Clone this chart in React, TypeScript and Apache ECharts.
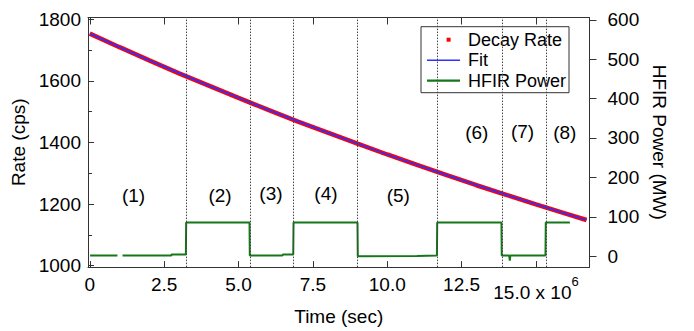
import React, { useEffect, useRef } from 'react';
import * as echarts from 'echarts';

// Axis ticks
const timeTicks = [0, 2.5, 5.0, 7.5, 10.0, 12.5, 15.0];
const rateTicks = [1000, 1200, 1400, 1600, 1800];
const rateMinorTicks = [1100, 1300, 1500, 1700];
const powerTicks = [0, 100, 200, 300, 400, 500, 600];

// Decay rate (cps) vs time (x 10^6 s)
const decayTime = [0, 1, 2, 3, 4, 5, 6, 7, 8, 9, 10, 11, 12, 13, 14, 15, 16, 16.7];
const decayRate = [1754, 1710, 1667, 1625, 1585, 1545, 1506, 1468, 1432, 1396, 1361, 1327, 1294, 1261, 1230, 1199, 1169, 1148];

// Fit
const fitTime = [0, 2, 4, 6, 8, 10, 12, 14, 16, 16.7];
const fitRate = [1754, 1667, 1585, 1506, 1432, 1361, 1294, 1230, 1169, 1148];

// HFIR power (MW) vs time (x 10^6 s)
const powerTime = [0.01, 0.93, 0.94, 1.10, 2.74, 2.75, 3.23, 3.24, 5.37, 5.38, 6.48, 6.49, 6.84, 6.85, 9.0, 9.01, 11.0, 11.67, 11.68, 13.84, 13.85, 14.1, 14.12, 14.14, 15.32, 15.33, 16.14];
const powerMW = [1.5, 1.5, null, 1.5, 1.5, 4, 4, 85.5, 85.5, 1.5, 1.5, 4.5, 4.5, 85.5, 85.5, 0, 0.5, 1.5, 85.5, 85.5, 2, 2, -11, 2, 2, 85.5, 85.5];

// Run period boundaries (x 10^6 s)
const boundaries = [3.24, 5.38, 6.85, 9.0, 11.69, 13.85, 15.33];

// Period labels
const regionNames = ['(1)', '(2)', '(3)', '(4)', '(5)', '(6)', '(7)', '(8)'];
const regionTime = [1.47, 4.38, 6.09, 7.94, 10.37, 13.01, 14.55, 15.97];
const regionRate = [1228, 1228, 1234, 1234, 1228, 1434, 1436, 1434];

const FONT = 'Liberation Sans, Arial, Helvetica, sans-serif';
const AXIS_COLOR = '#333';

export default function App() {
  const ref = useRef<HTMLDivElement>(null);

  useEffect(() => {
    if (!ref.current) return;
    const chart = echarts.init(ref.current, null, { renderer: 'svg' });

    const axisLineStyle = { color: AXIS_COLOR, width: 1 };
    const labelStyle = { fontSize: 19, color: '#000', fontFamily: FONT };

    const option: any = {
      animation: false,
      backgroundColor: '#fff',
      grid: { left: 88, right: 104.5, top: 17.5, bottom: 61.7, containLabel: false },
      legend: {
        orient: 'vertical',
        left: 421,
        top: 26.7,
        itemWidth: 36,
        itemHeight: 14,
        itemGap: 2.5,
        padding: [4, 3, 3, 6],
        borderColor: AXIS_COLOR,
        borderWidth: 1,
        backgroundColor: '#fff',
        selectedMode: false,
        textStyle: { fontSize: 18, color: '#000', fontFamily: FONT },
        itemStyle: { borderWidth: 0 },
        data: [
          { name: 'Decay Rate', icon: 'path://M0,0L0,0M36,14L36,14M19.6,5L23.6,5L23.6,9L19.6,9Z' },
          { name: 'Fit', icon: 'path://M0,0L0,0M36,14L36,14M0,6.2L33,6.2L33,7.8L0,7.8Z' },
          { name: 'HFIR Power', icon: 'path://M0,0L0,0M36,14L36,14M0,5.9L33,5.9L33,8.1L0,8.1Z' },
        ],
      },
      xAxis: [
        {
          type: 'value',
          position: 'bottom',
          min: -0.06,
          max: 16.8,
          axisLine: { show: true, onZero: false, lineStyle: axisLineStyle },
          axisTick: { show: true, inside: true, length: 6, customValues: timeTicks, lineStyle: axisLineStyle },
          axisLabel: {
            ...labelStyle,
            margin: 8,
            customValues: timeTicks,
            formatter: (v: number) => {
              if (v === 0) return '0';
              if (v === 15) return '{m|15.0 x 10}{s|6}';
              return v.toFixed(1);
            },
            rich: {
              m: { fontSize: 19, fontFamily: FONT, color: '#000', padding: [8, 0, 0, 0] },
              s: { fontSize: 13, fontFamily: FONT, color: '#000', verticalAlign: 'top' },
            },
          },
          splitLine: { show: false },
          name: 'Time (sec)',
          nameLocation: 'middle',
          nameGap: 39,
          nameTextStyle: { fontSize: 19, color: '#000', fontFamily: FONT },
        },
        {
          type: 'value',
          position: 'top',
          min: -0.06,
          max: 16.8,
          axisLine: { show: true, onZero: false, lineStyle: axisLineStyle },
          axisTick: { show: true, inside: true, length: 7, customValues: timeTicks, lineStyle: axisLineStyle },
          axisLabel: { show: false },
          splitLine: { show: false },
        },
      ],
      yAxis: [
        {
          type: 'value',
          position: 'left',
          min: 994.8,
          max: 1806.5,
          axisLine: { show: true, onZero: false, lineStyle: axisLineStyle },
          axisTick: { show: true, inside: true, length: 6, customValues: rateTicks, lineStyle: axisLineStyle },
          axisLabel: { ...labelStyle, margin: 7, customValues: rateTicks, formatter: (v: number) => String(v) },
          splitLine: { show: false },
          name: 'Rate (cps)',
          nameLocation: 'middle',
          nameRotate: 90,
          nameGap: 55,
          nameTextStyle: { fontSize: 19, color: '#000', fontFamily: FONT },
        },
        {
          type: 'value',
          position: 'right',
          min: -27.7,
          max: 605.8,
          axisLine: { show: true, onZero: false, lineStyle: axisLineStyle },
          axisTick: { show: true, inside: false, length: 7, customValues: powerTicks, lineStyle: axisLineStyle },
          axisLabel: { ...labelStyle, margin: 18, customValues: powerTicks, formatter: (v: number) => String(v) },
          splitLine: { show: false },
          name: 'HFIR Power (MW)',
          nameLocation: 'middle',
          nameRotate: -90,
          nameGap: 53,
          nameTextStyle: { fontSize: 19, color: '#000', fontFamily: FONT },
        },
        {
          type: 'value',
          position: 'left',
          min: 994.8,
          max: 1806.5,
          axisLine: { show: false, onZero: false },
          axisTick: { show: true, inside: true, length: 4, customValues: rateMinorTicks, lineStyle: axisLineStyle },
          axisLabel: { show: false },
          splitLine: { show: false },
        },
      ],
      series: [
        {
          name: 'HFIR Power',
          type: 'line',
          xAxisIndex: 0,
          yAxisIndex: 1,
          symbol: 'none',
          color: '#15761a',
          lineStyle: { color: '#15761a', width: 2 },
          data: powerTime.map((t, i) => [t, powerMW[i] === null ? '-' : powerMW[i]]),
          silent: true,
          markLine: {
            silent: true,
            symbol: ['none', 'none'],
            label: { show: false },
            lineStyle: { color: '#444', width: 1, type: [1.5, 1.5] },
            data: boundaries.map((b) => ({ xAxis: b })),
          },
        },
        {
          name: 'Decay Rate',
          type: 'line',
          xAxisIndex: 0,
          yAxisIndex: 0,
          symbol: 'none',
          color: '#ff0000',
          lineStyle: { color: '#ff0000', width: 4.5 },
          data: decayTime.map((t, i) => [t, decayRate[i]]),
          silent: true,
        },
        {
          name: 'Fit',
          type: 'line',
          xAxisIndex: 0,
          yAxisIndex: 0,
          symbol: 'none',
          color: '#3030ff',
          lineStyle: { color: '#3030ff', width: 1.8 },
          data: fitTime.map((t, i) => [t, fitRate[i]]),
          silent: true,
        },
        {
          name: 'periods',
          type: 'scatter',
          xAxisIndex: 0,
          yAxisIndex: 0,
          symbolSize: 0.01,
          itemStyle: { color: '#000', opacity: 1 },
          label: {
            show: true,
            position: 'inside',
            formatter: '{b}',
            fontSize: 19,
            color: '#000',
            opacity: 1,
            fontFamily: FONT,
          },
          data: regionNames.map((n, i) => ({ name: n, value: [regionTime[i], regionRate[i]] })),
          silent: true,
        },
      ],
    };

    chart.setOption(option);
    return () => chart.dispose();
  }, []);

  return <div ref={ref} style={{ position: 'fixed', left: 0, top: 0, width: 694, height: 331 }} />;
}
